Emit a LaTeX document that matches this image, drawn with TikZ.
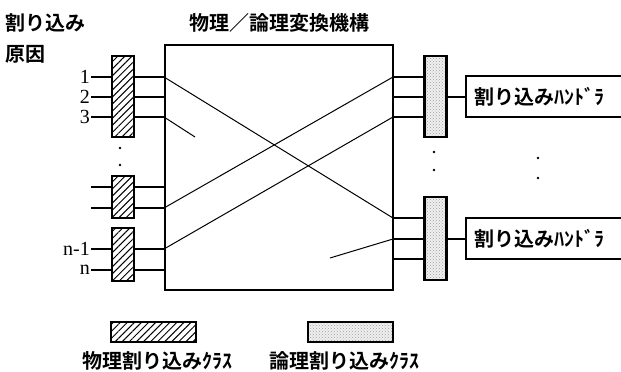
\documentclass[tikz,border=0pt]{standalone}
\usepackage{fontspec}
\newfontfamily\jp{Noto Sans CJK JP Bold}
\newfontfamily\numf{Liberation Serif}
\usetikzlibrary{patterns,patterns.meta}
\begin{document}
\begin{tikzpicture}[x=1pt,y=-1pt,
  physbox/.style={draw, line width=2.4pt, preaction={fill=white},
    pattern={Lines[angle=45,distance=5pt,line width=1pt]}, minimum width=22pt, inner sep=0pt},
  logibox/.style={draw, line width=2.4pt, preaction={fill=gray!12},
    pattern=crosshatch dots, pattern color=gray!75, minimum width=22pt, inner sep=0pt},
  wire/.style={line width=2pt},
  crossline/.style={line width=1pt},
  jptext/.style={font=\jp\fontsize{20}{20}\selectfont, inner sep=0pt},
  numtext/.style={font=\numf\fontsize{20}{20}\selectfont, inner sep=0pt, anchor=east},
  handler/.style={draw, line width=2pt, minimum width=159pt, minimum height=41pt, inner sep=0pt},
  dotmark/.style={fill=black}
]
\useasboundingbox (0,0) rectangle (621,372);
\clip (0,0) rectangle (621,372);

% main conversion box
\node[draw, line width=2pt, minimum width=228pt, minimum height=245pt, inner sep=0pt] (M) at (279,167.5) {};

% physical interrupt class boxes (left)
\coordinate (i1) at (91,77);
\coordinate (i2) at (91,97);
\coordinate (i3) at (91,117);
\coordinate (i4) at (91,187);
\coordinate (i5) at (91,208);
\coordinate (i6) at (91,249);
\coordinate (i7) at (91,270);
\foreach \k in {1,...,7} { \draw[wire] (i\k) -- (i\k -| M.west) coordinate (a\k); }

\node[physbox, minimum height=81pt] (L1) at (123,96.5) {};
\node[physbox, minimum height=42pt] (L2) at (123,197) {};
\node[physbox, minimum height=53pt] (L3) at (123,254.5) {};

\node[numtext] (n1) at ([xshift=-1pt]i1) {1};
\node[numtext] (n2) at ([xshift=-1pt]i2) {2};
\node[numtext] (n3) at ([xshift=-1pt]i3) {3};
\node[numtext] (nn1) at ([xshift=-1pt]i6) {n-1};
\node[numtext] (nn) at ([xshift=-1pt]i7) {n};

% logical interrupt class boxes (right)
\node[logibox, minimum height=81pt] (R1) at (435.5,96.5) {};
\node[logibox, minimum height=83pt] (R2) at (435.5,238.5) {};
\coordinate (o1) at (393,77);
\coordinate (o2) at (393,97);
\coordinate (o3) at (393,117);
\coordinate (o4) at (393,218);
\coordinate (o5) at (393,239);
\coordinate (o6) at (393,259);
\foreach \k in {1,2,3} { \draw[wire] (o\k) -- (o\k -| R1.west); }
\foreach \k in {4,5,6} { \draw[wire] (o\k) -- (o\k -| R2.west); }

% handlers
\node[handler] (H1) at (545.5,96.5) {};
\node[handler] (H2) at (545.5,238.5) {};
\node[jptext, anchor=west] (h1t) at ([xshift=9pt]H1.west) {割り込みﾊﾝﾄﾞﾗ};
\node[jptext, anchor=west] (h2t) at ([xshift=9pt]H2.west) {割り込みﾊﾝﾄﾞﾗ};
\draw[wire] (R1.east) -- (H1.west);
\draw[wire] (R2.east) -- (H2.west);

% crossing lines inside conversion box
\coordinate (s1) at (195,137);
\coordinate (s2) at (330,258);
\draw[crossline] (a1) -- (o4);
\draw[crossline] (a3) -- (s1);
\draw[crossline] (a5) -- (o1);
\draw[crossline] (a6) -- (o3);
\draw[crossline] (o5) -- (s2);

% ellipsis dots
\fill[dotmark] (120,148) circle (1.4pt);
\fill[dotmark] (120,165) circle (1.4pt);
\fill[dotmark] (434,152) circle (1.4pt);
\fill[dotmark] (434,170) circle (1.4pt);
\fill[dotmark] (538,158) circle (1.4pt);
\fill[dotmark] (538,178) circle (1.4pt);

% titles
\node[jptext, anchor=west] (t1) at (5,23) {割り込み};
\node[jptext, anchor=west] (t2) at (5,54) {原因};
\node[jptext] (t3) at (279,23) {物理／論理変換機構};

% legend
\node[physbox, minimum width=85pt, minimum height=20pt, line width=2pt] (lg1) at (153.5,332) {};
\node[logibox, minimum width=85pt, minimum height=20pt, line width=2pt] (lg2) at (350.5,332) {};
\node[jptext] (lt1) at (157,361) {物理割り込みｸﾗｽ};
\node[jptext] (lt2) at (344,361) {論理割り込みｸﾗｽ};
\end{tikzpicture}
\end{document}
